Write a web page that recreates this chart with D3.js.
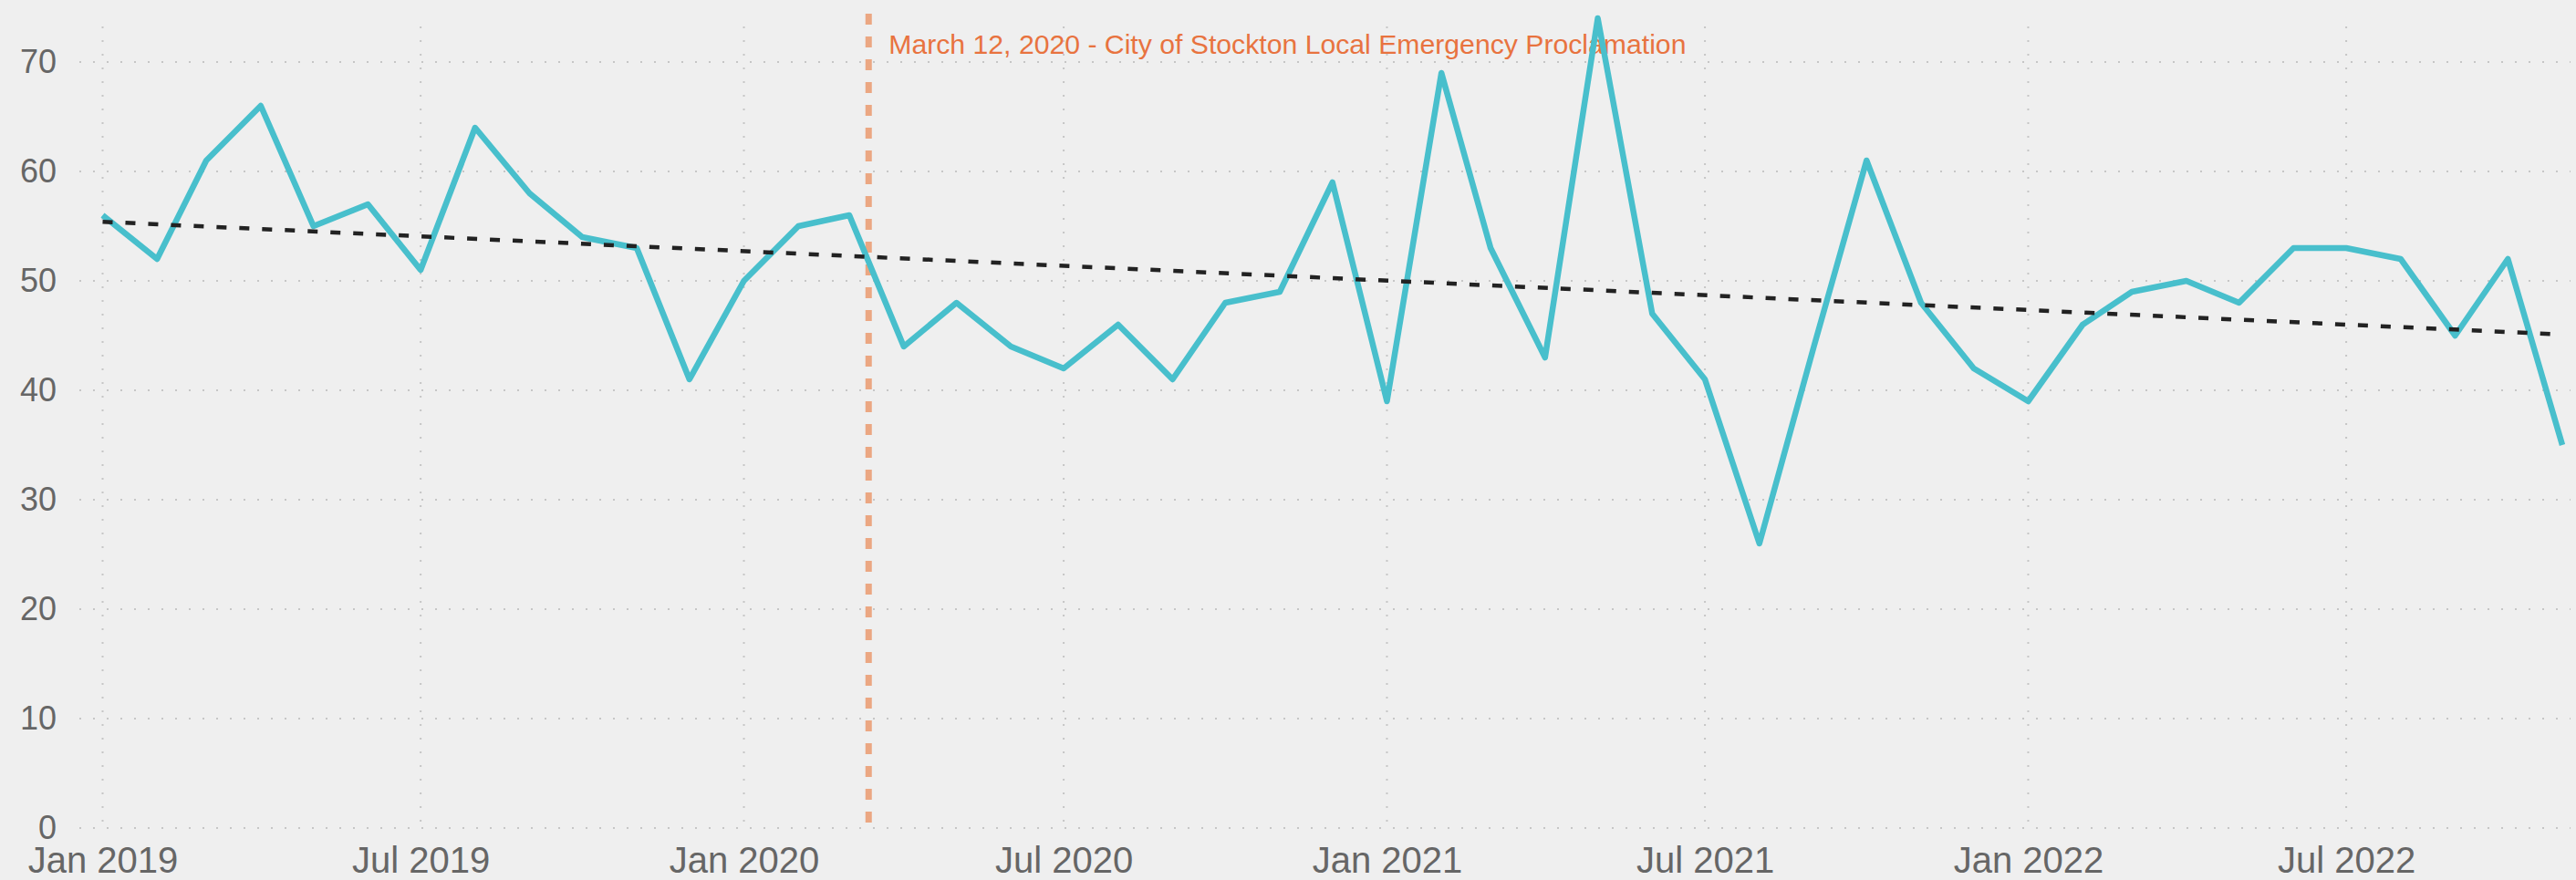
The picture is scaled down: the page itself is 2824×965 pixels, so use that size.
<!DOCTYPE html>
<html>
<head>
<meta charset="utf-8">
<script src="https://cdn.jsdelivr.net/npm/d3@7"></script>
<style>
  html, body { margin: 0; padding: 0; background: #efefef; }
  svg { display: block; font-family: "Liberation Sans", Arial, sans-serif; }
</style>
</head>
<body>
<div id="chart"></div>
<script>
// monthly counts, Jan 2019 .. Nov 2022
const months = [
  '2019-01', '2019-02', '2019-03', '2019-04', '2019-05', '2019-06',
  '2019-07', '2019-08', '2019-09', '2019-10', '2019-11', '2019-12',
  '2020-01', '2020-02', '2020-03', '2020-04', '2020-05', '2020-06',
  '2020-07', '2020-08', '2020-09', '2020-10', '2020-11', '2020-12',
  '2021-01', '2021-02', '2021-03', '2021-04', '2021-05', '2021-06',
  '2021-07', '2021-08', '2021-09', '2021-10', '2021-11', '2021-12',
  '2022-01', '2022-02', '2022-03', '2022-04', '2022-05', '2022-06',
  '2022-07', '2022-08', '2022-09', '2022-10', '2022-11'
];
const counts = [
  56, 52, 61, 66, 55, 57, 51, 64, 58, 54, 53, 41,
  50, 55, 56, 44, 48, 44, 42, 46, 41, 48, 49, 59,
  39, 69, 53, 43, 74, 47, 41, 26, 44, 61, 48, 42,
  39, 46, 49, 50, 48, 53, 53, 52, 45, 52, 35
];
// trend line end values
const trendMonths = ['2019-01', '2022-11'];
const trendValues = [55.4, 45.1];

const yTicks = [0, 10, 20, 30, 40, 50, 60, 70];
const xTicks = ['2019-01', '2019-07', '2020-01', '2020-07', '2021-01', '2021-07', '2022-01', '2022-07'];

const eventDate = '2020-03-12';
const eventLabel = 'March 12, 2020 - City of Stockton Local Emergency Proclamation';

const width = 2824;
const height = 965;

const parseMonth = d3.timeParse('%Y-%m');
const parseDay = d3.timeParse('%Y-%m-%d');

const series = months.map((m, i) => ({ date: parseMonth(m), count: counts[i] }));
const trend = trendMonths.map((m, i) => ({ date: parseMonth(m), count: trendValues[i] }));

const svg = d3.select('#chart').append('svg')
  .attr('width', width)
  .attr('height', height);

svg.append('rect')
  .attr('width', width)
  .attr('height', height)
  .attr('fill', '#efefef');

const xScale = d3.scaleTime()
  .domain([parseMonth('2019-01'), parseMonth('2022-11')])
  .range([112.5, 2809]);

const yScale = d3.scaleLinear()
  .domain([0, 70])
  .range([908, 68]);

const gridTop = 29;
const gridLeft = 87;
const gridRight = 2818;

// horizontal gridlines
svg.append('g')
  .selectAll('line')
  .data(yTicks)
  .enter().append('line')
    .attr('x1', gridLeft)
    .attr('x2', gridRight)
    .attr('y1', (d) => yScale(d))
    .attr('y2', (d) => yScale(d))
    .style('stroke', '#c6c6c6')
    .style('stroke-width', 2)
    .style('stroke-dasharray', '2,13');

// vertical gridlines
svg.append('g')
  .selectAll('line')
  .data(xTicks)
  .enter().append('line')
    .attr('x1', (d) => xScale(parseMonth(d)))
    .attr('x2', (d) => xScale(parseMonth(d)))
    .attr('y1', gridTop)
    .attr('y2', yScale(0))
    .style('stroke', '#c6c6c6')
    .style('stroke-width', 2)
    .style('stroke-dasharray', '2,13');

// y axis labels
const yAxis = d3.axisLeft(yScale)
  .tickValues(yTicks)
  .tickSize(0)
  .tickPadding(0);

const yG = svg.append('g')
  .attr('transform', 'translate(62,0)')
  .call(yAxis);
yG.select('.domain').remove();
yG.selectAll('text')
  .attr('font-family', '"Liberation Sans", Arial, sans-serif')
  .attr('font-size', 36)
  .attr('fill', '#666666');

// x axis labels
const xAxis = d3.axisBottom(xScale)
  .tickValues(xTicks.map(parseMonth))
  .tickFormat(d3.timeFormat('%b %Y'))
  .tickSize(0)
  .tickPadding(0);

const xG = svg.append('g')
  .attr('transform', 'translate(0,957)')
  .call(xAxis);
xG.select('.domain').remove();
xG.selectAll('text')
  .attr('dy', 0)
  .attr('y', 0)
  .attr('font-family', '"Liberation Sans", Arial, sans-serif')
  .attr('font-size', 40)
  .attr('fill', '#666666');

// event marker
const eventX = xScale(parseDay(eventDate));
svg.append('line')
  .attr('x1', eventX)
  .attr('x2', eventX)
  .attr('y1', 15)
  .attr('y2', yScale(0))
  .style('stroke', '#eba782')
  .style('stroke-width', 7)
  .style('stroke-dasharray', '12,13');

svg.append('text')
  .attr('x', eventX + 22)
  .attr('y', 59)
  .attr('font-size', 30.2)
  .attr('fill', '#e8733f')
  .text(eventLabel);

// main line
const line = d3.line()
  .x((d) => xScale(d.date))
  .y((d) => yScale(d.count));

svg.append('path')
  .attr('d', line(series))
  .style('fill', 'none')
  .style('stroke', '#48bfcc')
  .style('stroke-width', 6.5)
  .style('stroke-linejoin', 'round');

// trend line
svg.append('path')
  .attr('d', line(trend))
  .style('fill', 'none')
  .style('stroke', '#222222')
  .style('stroke-width', 4.5)
  .style('stroke-dasharray', '11,14');
</script>
</body>
</html>
